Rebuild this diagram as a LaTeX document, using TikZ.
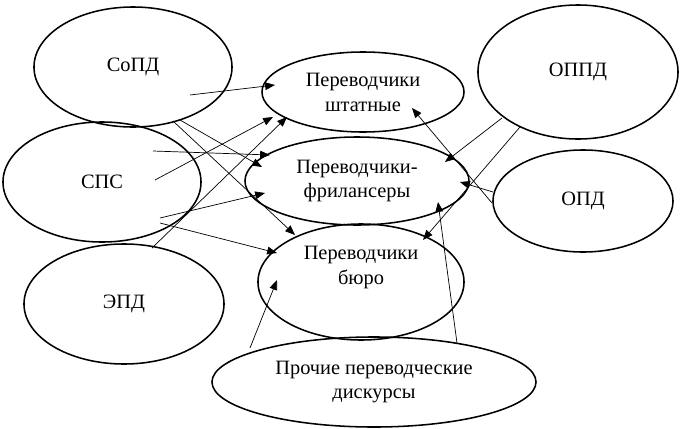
\documentclass[tikz,border=0pt]{standalone}
\usepackage{fontspec}
\setmainfont{Liberation Serif}
\usetikzlibrary{shapes.geometric,arrows.meta}

\begin{document}
\begin{tikzpicture}[x=0.025cm,y=-0.025cm]
        \useasboundingbox (0,0) rectangle (680,429);
        \begin{scope}
            \tikzset{dnode/.style = {
                ellipse,
                draw=black,
                line width=1.1pt,
                inner sep=0pt,
                align=center,
                font=\fontsize{14.5}{17.7}\selectfont } }
            \tikzset{dedge/.style = {
                draw=black,
                line width=0.5pt,
                -{Triangle[length=7pt,width=5.5pt]} } }
                % discourses and translators
                \node[dnode, minimum width=4.95cm, minimum height=3cm] (sopd) at (133,67) {СоПД};
                \node[dnode, minimum width=4.95cm, minimum height=3cm] (sps) at (102,182) {СПС};
                \node[dnode, minimum width=5cm, minimum height=3cm] (epd) at (124,304) {ЭПД};
                \node[dnode, minimum width=5.05cm, minimum height=2cm] (shtat) at (363,92) {Переводчики\\штатные};
                \node[dnode, minimum width=5.6cm, minimum height=2.2cm] (free) at (357,181) {Переводчики-\\фрилансеры};
                \node[dnode, minimum width=5.15cm, minimum height=2.9cm] (buro) at (361,282) {Переводчики\\бюро\\[6pt]};
                \node[dnode, minimum width=8.1cm, minimum height=2.25cm] (proch) at (374,382) {Прочие переводческие\\дискурсы};
                \node[dnode, minimum width=5cm, minimum height=3.35cm] (oppd) at (578,72) {ОППД};
                \node[dnode, minimum width=4.5cm, minimum height=2.55cm] (opd) at (583,201) {ОПД};
                % line ends
                \coordinate (s1) at (190,95);   \coordinate (t1) at (275,85);
                \coordinate (s2) at (180,120);  \coordinate (t2) at (262,167);
                \coordinate (s3) at (173,121);  \coordinate (t3) at (295,235);
                \coordinate (s4) at (153,151);  \coordinate (t4) at (270,155);
                \coordinate (s5) at (155,180);  \coordinate (t5) at (273,117);
                \coordinate (s6) at (160,218);  \coordinate (t6) at (265,193);
                \coordinate (s7) at (160,223);  \coordinate (t7) at (277,253);
                \coordinate (s8) at (152,248);  \coordinate (t8) at (287,117);
                \coordinate (s9) at (250,348);  \coordinate (t9) at (277,280);
                \coordinate (s10) at (457,343); \coordinate (t10) at (438,202);
                \coordinate (s11) at (502,118); \coordinate (t11) at (445,162);
                \coordinate (s12) at (520,127); \coordinate (t12) at (423,240);
                \coordinate (s13) at (493,192); \coordinate (t13) at (460,182);
                \coordinate (s14) at (492,203); \coordinate (t14) at (412,108);
                \foreach \x in {1,...,14}{
                    \draw[dedge] (s\x) -- (t\x);
                }
        \end{scope}
    \end{tikzpicture}
\end{document}
